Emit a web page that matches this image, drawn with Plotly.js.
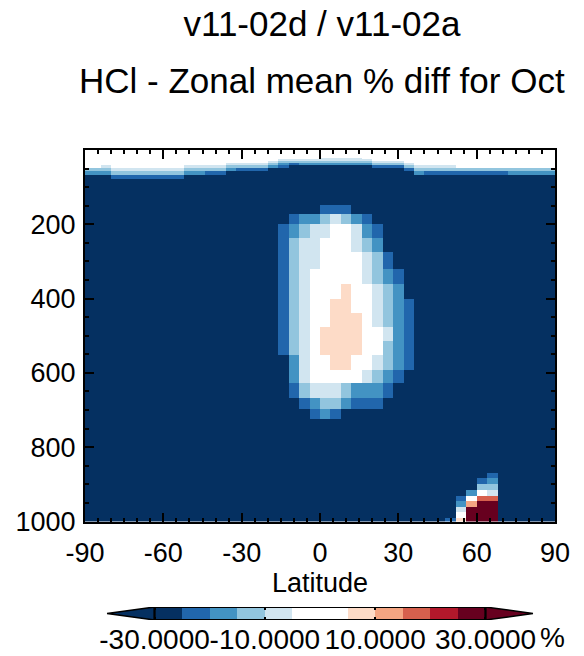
<!DOCTYPE html>
<html><head><meta charset="utf-8">
<script src="https://cdn.plot.ly/plotly-3.0.1.min.js"></script>
<style>html,body{margin:0;padding:0;background:#fff;} #chart{width:584px;height:656px;}</style>
</head><body><div id="chart"></div>
<script>
// Latitude cell edges (4 x 5 grid, half cells at the poles)
const latitudeEdges = [-90,-88,-84,-80,-76,-72,-68,-64,-60,-56,-52,-48,-44,-40,-36,-32,-28,-24,-20,-16,-12,-8,-4,0,4,8,12,16,20,24,28,32,36,40,44,48,52,56,60,64,68,72,76,80,84,88,90];
// Pressure level edges (hPa), top to bottom
const pressureEdges = [0,10,15,21,25,30,35,41,48,57,67,79,93,109,128,149,173,200,238,275,321,362,401,440,477,515,552,591,627,667,697,724,750,776,802,823,839,855,870,884,899,915,930,945,960,975,990,1005];
const classCodes  = ['N',   'B',   'M',   'L',   'V',  'W','P','S', 'R', 'C', 'D'];
const classValues = [-32.5, -22.5, -17.5, -12.5, -7.5, 0,  7.5,12.5,17.5,22.5,27.5];
// Zonal mean % difference, one string per pressure level (top first), one letter per latitude cell
const diffRows = [
 "WWWWWWWWWW WWWWWWWWWW WWWWWWWWWW WWWWWWWWWW WWWWWW",
 "WWWWWWWWWW WWWWWWWWWW WWWWWWWWWW WWWWWWWWWW WWWWWW",
 "WWWWWWWWWW WWWWWWWWWW WWWWWWWWWW WWWWWWWWWW WWWWWW",
 "WWWWWWWWWW WWWWWWWWWW WWWVVVVWWW WWWWWWWWWW WWWWWW",
 "WWWWWWWWWW WWWWWWWWWV VVVVVVVVWW WWWWWWWWWW WWWWWW",
 "WWWWWWWWWW WWWWWWWWVL LLLLLLLLVV VWWWWWWWWW WWWWWW",
 "WWWWWWWWWW WWWWVVVVLM BMMMMMMMLL LVWWWWWWWW WWWWWW",
 "WWVWWWWWWW VVVVLLLLMB NNNNNNNNBB BLVVVVWWWW WWWWWW",
 "LLLVVVVVVV LLLLMBBBNN NNNNNNNNNN NBLLLLLLLL LLLLLL",
 "MMMLLLLLLL MMBBNNNNNN NNNNNNNNNN NNMBBBBBBB BMMMMM",
 "NNNBBBBBBB NNNNNNNNNN NNNNNNNNNN NNNNNNNNNN NNNNNN",
 "NNNNNNNNNN NNNNNNNNNN NNNNNNNNNN NNNNNNNNNN NNNNNN",
 "NNNNNNNNNN NNNNNNNNNN NNNNNNNNNN NNNNNNNNNN NNNNNN",
 "NNNNNNNNNN NNNNNNNNNN NNNNNNNNNN NNNNNNNNNN NNNNNN",
 "NNNNNNNNNN NNNNNNNNNN NNNNNNNNNN NNNNNNNNNN NNNNNN",
 "NNNNNNNNNN NNNNNNNNNN NNNBBBNNNN NNNNNNNNNN NNNNNN",
 "NNNNNNNNNN NNNNNNNNNN BMMLVLMBNN NNNNNNNNNN NNNNNN",
 "NNNNNNNNNN NNNNNNNNNB MLVVWWVMBN NNNNNNNNNN NNNNNN",
 "NNNNNNNNNN NNNNNNNNNB LVVWWWVLMN NNNNNNNNNN NNNNNN",
 "NNNNNNNNNN NNNNNNNNNB LVVWWWWVLB NNNNNNNNNN NNNNNN",
 "NNNNNNNNNN NNNNNNNNNB LVWWWWWVLM BNNNNNNNNN NNNNNN",
 "NNNNNNNNNN NNNNNNNNNB LVWWWPWWVL MNNNNNNNNN NNNNNN",
 "NNNNNNNNNN NNNNNNNNNB LVWWPPWWVL MBNNNNNNNN NNNNNN",
 "NNNNNNNNNN NNNNNNNNNB LVWWPPPWVL MBNNNNNNNN NNNNNN",
 "NNNNNNNNNN NNNNNNNNNB LVWPPPPWWV MBNNNNNNNN NNNNNN",
 "NNNNNNNNNN NNNNNNNNNB LVWPPPPWWL MBNNNNNNNN NNNNNN",
 "NNNNNNNNNN NNNNNNNNNN MVWWPPWWVL MBNNNNNNNN NNNNNN",
 "NNNNNNNNNN NNNNNNNNNN MVWWWWWVLM BNNNNNNNNN NNNNNN",
 "NNNNNNNNNN NNNNNNNNNN BLVVVLMMMB NNNNNNNNNN NNNNNN",
 "NNNNNNNNNN NNNNNNNNNN NBMLLMBBBN NNNNNNNNNN NNNNNN",
 "NNNNNNNNNN NNNNNNNNNN NNBMBNNNNN NNNNNNNNNN NNNNNN",
 "NNNNNNNNNN NNNNNNNNNN NNNNNNNNNN NNNNNNNNNN NNNNNN",
 "NNNNNNNNNN NNNNNNNNNN NNNNNNNNNN NNNNNNNNNN NNNNNN",
 "NNNNNNNNNN NNNNNNNNNN NNNNNNNNNN NNNNNNNNNN NNNNNN",
 "NNNNNNNNNN NNNNNNNNNN NNNNNNNNNN NNNNNNNNNN NNNNNN",
 "NNNNNNNNNN NNNNNNNNNN NNNNNNNNNN NNNNNNNNNN NNNNNN",
 "NNNNNNNNNN NNNNNNNNNN NNNNNNNNNN NNNNNNNNNN NNNNNN",
 "NNNNNNNNNN NNNNNNNNNN NNNNNNNNNN NNNNNNNNNN NNNNNN",
 "NNNNNNNNNN NNNNNNNNNN NNNNNNNNNN NNNNNNNNNB NNNNNN",
 "NNNNNNNNNN NNNNNNNNNN NNNNNNNNNN NNNNNNNNBM NNNNNN",
 "NNNNNNNNNN NNNNNNNNNN NNNNNNNNNN NNNNNNNNLL NNNNNN",
 "NNNNNNNNNN NNNNNNNNNN NNNNNNNNNN NNNNNNNMWV NNNNNN",
 "NNNNNNNNNN NNNNNNNNNN NNNNNNNNNN NNNNNNBWRR NNNNNN",
 "NNNNNNNNNN NNNNNNNNNN NNNNNNNNNN NNNNNNMSDD NNNNNN",
 "NNNNNNNNNN NNNNNNNNNN NNNNNNNNNN NNNNNNVDDD NNNNNN",
 "NNNNNNNNNN NNNNNNNNNN NNNNNNNNNN NNNNNNWDDD NNNNNN",
 "NNNNNNNNNN NNNNNNNNNN NNNNNNNNNN NNNNNBPDDD NNNNNN"
];
const xTickValues = [-90,-60,-30,0,30,60,90];
const xTickLabels = ['-90','-60','-30','0','30','60','90'];
const yTickValues = [200,400,600,800,1000];
const yTickLabels = ['200','400','600','800','1000'];
const colorbarLevels = [-30,-25,-20,-15,-10,-5,0,5,10,15,20,25,30];
const colorbarValues = [-27.5,-22.5,-17.5,-12.5,-7.5,-2.5,2.5,7.5,12.5,17.5,22.5,27.5];
const colorbarTickValues = [-30,-10,10,30];
const colorbarTickLabels = ['-30.0000','-10.0000','10.0000','30.0000'];
const binColors = ['#053061','#053061','#2166ac','#4393c3','#92c5de','#d1e5f0','#ffffff','#ffffff','#fddbc7','#f4a582','#d6604d','#b2182b','#67001f','#67001f'];

const nCols = latitudeEdges.length - 1;
const z = diffRows.map(function (r, i) {
  const s = r.replace(/ /g, '');
  if (s.length !== nCols) throw new Error('row ' + i + ' has ' + s.length + ' cells');
  return s.split('').map(function (c) { return classValues[classCodes.indexOf(c)]; });
});
if (z.length !== pressureEdges.length - 1) throw new Error('rows ' + z.length);

const colorscale = [];
binColors.forEach(function (c, i) {
  colorscale.push([i / binColors.length, c]);
  colorscale.push([(i + 1) / binColors.length, c]);
});

const FONT = 'Liberation Sans, Arial, Helvetica, sans-serif';
const H = 656, T = 150, B = 36;
const paperH = H - T - B;
function py(pix) { return (H - B - pix) / paperH; }

const traces = [
  { type: 'heatmap', x: latitudeEdges, y: pressureEdges, z: z, zmin: -35, zmax: 35,
    colorscale: colorscale, showscale: false, zsmooth: false, hoverinfo: 'skip',
    xaxis: 'x', yaxis: 'y' },
  { type: 'heatmap', x: colorbarLevels, y: [0, 1], z: [colorbarValues], zmin: -35, zmax: 35,
    colorscale: colorscale, showscale: false, zsmooth: false, hoverinfo: 'skip',
    xaxis: 'x2', yaxis: 'y2' }
];

const axisCommon = {
  ticks: 'inside', ticklen: 9, tickwidth: 2, tickcolor: '#000',
  showline: true, linewidth: 2, linecolor: '#000', mirror: 'allticks',
  showgrid: false, zeroline: false, tickfont: { size: 27, color: '#000', family: FONT }
};

const layout = {
  width: 584, height: 656,
  margin: { l: 85, r: 29, t: T, b: B, pad: 0 },
  paper_bgcolor: '#fff', plot_bgcolor: '#fff',
  showlegend: false,
  font: { family: FONT, size: 27, color: '#000' },
  title: { text: 'v11-02d / v11-02a', font: { size: 35, family: FONT, color: '#000' },
    xref: 'container', x: 322 / 584, xanchor: 'center',
    yref: 'container', y: 1 - 24 / 656, yanchor: 'middle' },
  xaxis: Object.assign({}, axisCommon, {
    domain: [0, 1], anchor: 'y', range: [-90, 90],
    tickmode: 'array', tickvals: xTickValues, ticktext: xTickLabels, tickangle: 0,
    minor: { tickmode: 'linear', tick0: 0, dtick: 5, ticks: 'inside', ticklen: 4, tickwidth: 2, tickcolor: '#000' },
    ticklabelstandoff: 6,
    title: { text: 'Latitude', font: { size: 27, family: FONT, color: '#000' }, standoff: 0 }
  }),
  yaxis: Object.assign({}, axisCommon, {
    domain: [py(521.5), 1], anchor: 'x', range: [1000, 0],
    tickmode: 'array', tickvals: yTickValues, ticktext: yTickLabels,
    minor: { tickmode: 'linear', tick0: 0, dtick: 50, ticks: 'inside', ticklen: 4, tickwidth: 2, tickcolor: '#000' },
    ticklabelstandoff: 2
  }),
  xaxis2: {
    domain: [0, 1], anchor: 'y2', range: [-42.6, 42.6],
    tickmode: 'array', tickvals: colorbarTickValues, ticktext: colorbarTickLabels, tickangle: 0,
    ticks: 'inside', ticklen: 3, tickwidth: 2, tickcolor: '#000', mirror: 'ticks',
    showline: false, showgrid: false, zeroline: false,
    tickfont: { size: 28, color: '#000', family: FONT }, ticklabelstandoff: 0
  },
  yaxis2: { domain: [0, py(607)], anchor: 'x2', range: [0, 1], visible: false, fixedrange: true },
  shapes: [
    { type: 'path', xref: 'x2', yref: 'y2', path: 'M -30,0 L -38.6,0.5 L -30,1 Z',
      fillcolor: '#053061', line: { color: '#000', width: 1.5 } },
    { type: 'path', xref: 'x2', yref: 'y2', path: 'M 30,0 L 38.6,0.5 L 30,1 Z',
      fillcolor: '#67001f', line: { color: '#000', width: 1.5 } },
    { type: 'rect', xref: 'x2', yref: 'y2', x0: -30, x1: 30, y0: 0, y1: 1,
      fillcolor: 'rgba(0,0,0,0)', line: { color: '#000', width: 2 } }
  ],
  annotations: [
    { text: 'HCl - Zonal mean % diff for Oct', xref: 'paper', yref: 'paper',
      x: (322 - 85) / 470, y: py(81), xanchor: 'center', yanchor: 'middle', showarrow: false,
      font: { size: 35, family: FONT, color: '#000' } },
    { text: '%', xref: 'x2', yref: 'paper', x: 42.1, y: py(637), xanchor: 'center', yanchor: 'middle',
      showarrow: false, font: { size: 28, family: FONT, color: '#000' } }
  ]
};

Plotly.newPlot('chart', traces, layout, { staticPlot: true, displayModeBar: false });
</script>
</body></html>
